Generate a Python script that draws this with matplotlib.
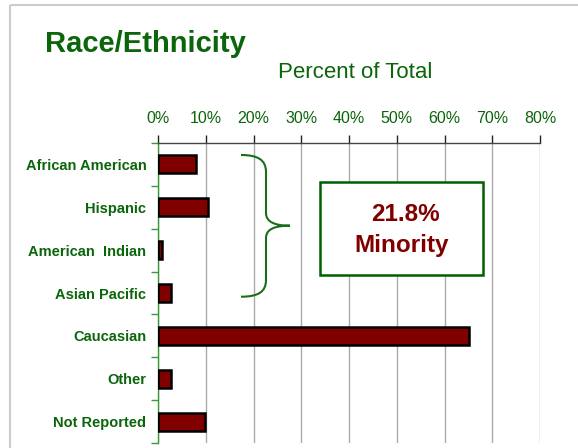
import matplotlib
matplotlib.use("Agg")
import matplotlib.pyplot as plt
from matplotlib.patches import Rectangle, PathPatch
from matplotlib.path import Path
from matplotlib.transforms import Affine2D

categories = ["African American", "Hispanic", "American  Indian", "Asian Pacific",
              "Caucasian", "Other", "Not Reported"]
values = [8.0, 10.5, 0.7, 2.6, 65.1, 2.7, 9.8]
xticks = [0, 10, 20, 30, 40, 50, 60, 70, 80]
xtick_labels = ["0%", "10%", "20%", "30%", "40%", "50%", "60%", "70%", "80%"]
title = "Race/Ethnicity"
subtitle = "Percent of Total"
note_lines = ["21.8%", "Minority"]

plt.rcParams['font.family'] = ['Liberation Sans', 'DejaVu Sans']

W, H = 578, 448
fig = plt.figure(figsize=(W / 100, H / 100), dpi=100)
fig.patch.set_facecolor('white')

green = '#0b650b'
bar_color = '#800000'

px = Affine2D().scale(1 / W, -1 / H).translate(0, 1) + fig.transFigure

# frame border
fig.patches.append(Rectangle((10, 5), 600, 480, transform=px, fill=False,
                             edgecolor='#cccccc', linewidth=1.5))

ax = fig.add_axes([158.3 / W, 1 - 443 / H, (540 - 158.3) / W, (443 - 143) / H])
ypos = list(range(len(categories)))
ax.barh(ypos, values, height=0.42, color=bar_color, edgecolor='black', linewidth=1.8, zorder=3)
ax.set_xlim(0, 80)
ax.set_ylim(len(categories) - 0.5, -0.5)

ax.xaxis.tick_top()
ax.set_xticks(xticks)
ax.set_xticklabels(xtick_labels, fontsize=11.5, color=green)
ax.tick_params(axis='x', direction='out', length=6, width=1, color='#222222', pad=6.5)
ax.grid(axis='x', color='#aaaaaa', linewidth=1, zorder=0)

ax.set_yticks(ypos)
ax.set_yticklabels(categories, fontsize=10.5, fontweight='bold', color=green)
ax.tick_params(axis='y', which='major', length=0, pad=8.5)
ax.set_yticks([i - 0.5 for i in range(len(categories) + 1)], minor=True)
ax.tick_params(axis='y', which='minor', direction='out', length=5, width=1, color='#3a9a3a')

for s in ['right', 'bottom']:
    ax.spines[s].set_visible(False)
ax.spines['top'].set_color('#444444')
ax.spines['top'].set_linewidth(1)
ax.spines['left'].set_color('#3a9a3a')
ax.spines['left'].set_linewidth(1)

# titles
fig.text(45 / W, 1 - 52 / H, title, fontsize=21, fontweight='bold', color=green,
         ha='left', va='baseline')
fig.text(355 / W, 1 - 72 / H, subtitle, fontsize=16, color=green, ha='center', va='center')

# brace
verts = [(241, 155), (258, 155), (266, 160), (266, 172),
         (266, 213),
         (266, 222), (275, 225.7), (290, 225.7),
         (275, 225.7), (266, 229), (266, 238),
         (266, 280),
         (266, 292), (258, 296.7), (241, 296.7)]
codes = [Path.MOVETO, Path.CURVE4, Path.CURVE4, Path.CURVE4,
         Path.LINETO,
         Path.CURVE4, Path.CURVE4, Path.CURVE4,
         Path.CURVE4, Path.CURVE4, Path.CURVE4,
         Path.LINETO,
         Path.CURVE4, Path.CURVE4, Path.CURVE4]
fig.patches.append(PathPatch(Path(verts, codes), transform=px, fill=False,
                             edgecolor='#1a6e1a', linewidth=1.5))

# note box
fig.patches.append(Rectangle((320, 181.7), 163.3, 93.3, transform=px, facecolor='white',
                             edgecolor='#006000', linewidth=1.8, zorder=5))
fig.text(405 / W, 1 - 221 / H, note_lines[0], fontsize=17.5, fontweight='bold',
         color=bar_color, ha='center', va='baseline', zorder=6)
fig.text(402 / W, 1 - 251.7 / H, note_lines[1], fontsize=17.5, fontweight='bold',
         color=bar_color, ha='center', va='baseline', zorder=6)

fig.savefig('out.png', dpi=100)
